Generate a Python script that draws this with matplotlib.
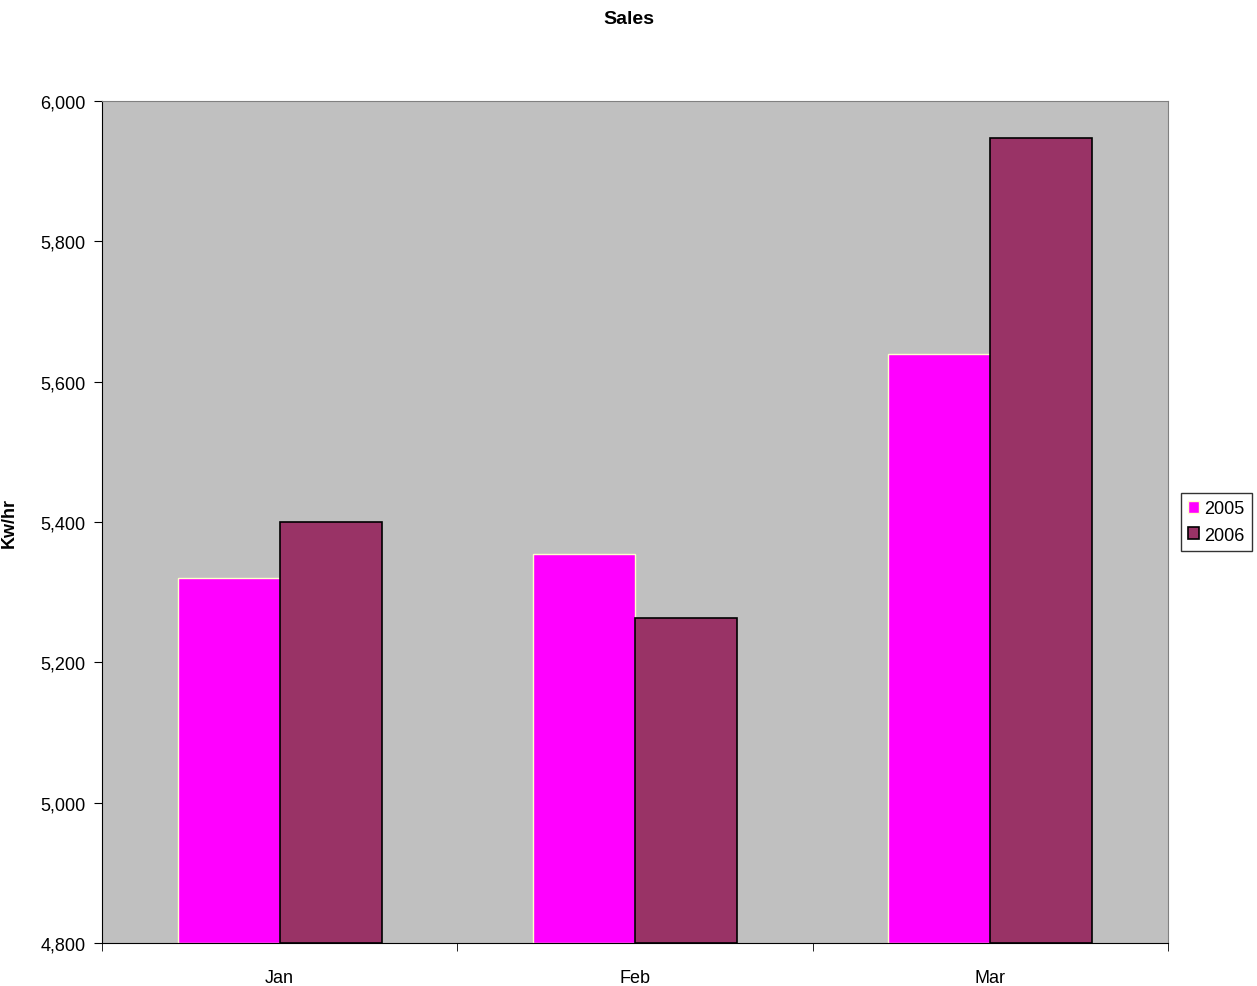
import matplotlib
matplotlib.use("Agg")
import matplotlib.pyplot as plt
import numpy as np
from matplotlib.ticker import FuncFormatter

plt.rcParams['font.family'] = ['Liberation Sans', 'DejaVu Sans']

# --- DATA ---
months = ['Jan', 'Feb', 'Mar']
sales_2005 = [5320, 5355, 5639]
sales_2006 = [5400, 5263, 5947]
series_names = ['2005', '2006']

# --- PLOT ---
fig = plt.figure(figsize=(12.57, 9.87), dpi=100)
ax = fig.add_axes([102/1257, 43/987, 1066/1257, 842/987])
ax.set_facecolor('#C0C0C0')

x = np.arange(len(months))
w = 0.287
ax.bar(x - w/2, np.array(sales_2005) - 4800, w, bottom=4800, color='#FF00FF',
       edgecolor='#FFFFCC', linewidth=1, label=series_names[0])
ax.bar(x + w/2, np.array(sales_2006) - 4800, w, bottom=4800, color='#993366',
       edgecolor='black', linewidth=1.2, label=series_names[1])

ax.set_xlim(-0.5, len(months) - 0.5)
ax.set_ylim(4800, 6000)
ax.set_yticks(np.arange(4800, 6001, 200))
ax.yaxis.set_major_formatter(FuncFormatter(lambda v, p: f"{int(v):,}"))
ax.set_xticks(x)
ax.set_xticklabels(months)
ax.set_xticks(np.arange(-0.5, len(months)), minor=True)
ax.tick_params(axis='x', which='major', length=0, pad=19, labelsize=13)
ax.tick_params(axis='x', which='minor', length=6, direction='out')
ax.tick_params(axis='y', length=6, direction='out', labelsize=13, pad=6)

for side in ['top', 'right']:
    ax.spines[side].set_color('#808080')
for side in ['left', 'bottom']:
    ax.spines[side].set_color('black')

ax.set_ylabel('Kw/hr', fontsize=13, fontweight='bold')
ax.yaxis.set_label_coords(-84/1066, 0.5)
fig.text(0.5, 1 - 20/987, 'Sales', ha='center', va='center', fontsize=14, fontweight='bold')

leg = ax.legend(loc='center left', bbox_to_anchor=(1.012, 0.5), fontsize=13,
                frameon=True, fancybox=False, edgecolor='black',
                handlelength=0.6, handleheight=0.6, handletextpad=0.3,
                borderpad=0.4, labelspacing=0.5, borderaxespad=0)
leg.get_frame().set_linewidth(1)

fig.savefig('out.png', dpi=100)
